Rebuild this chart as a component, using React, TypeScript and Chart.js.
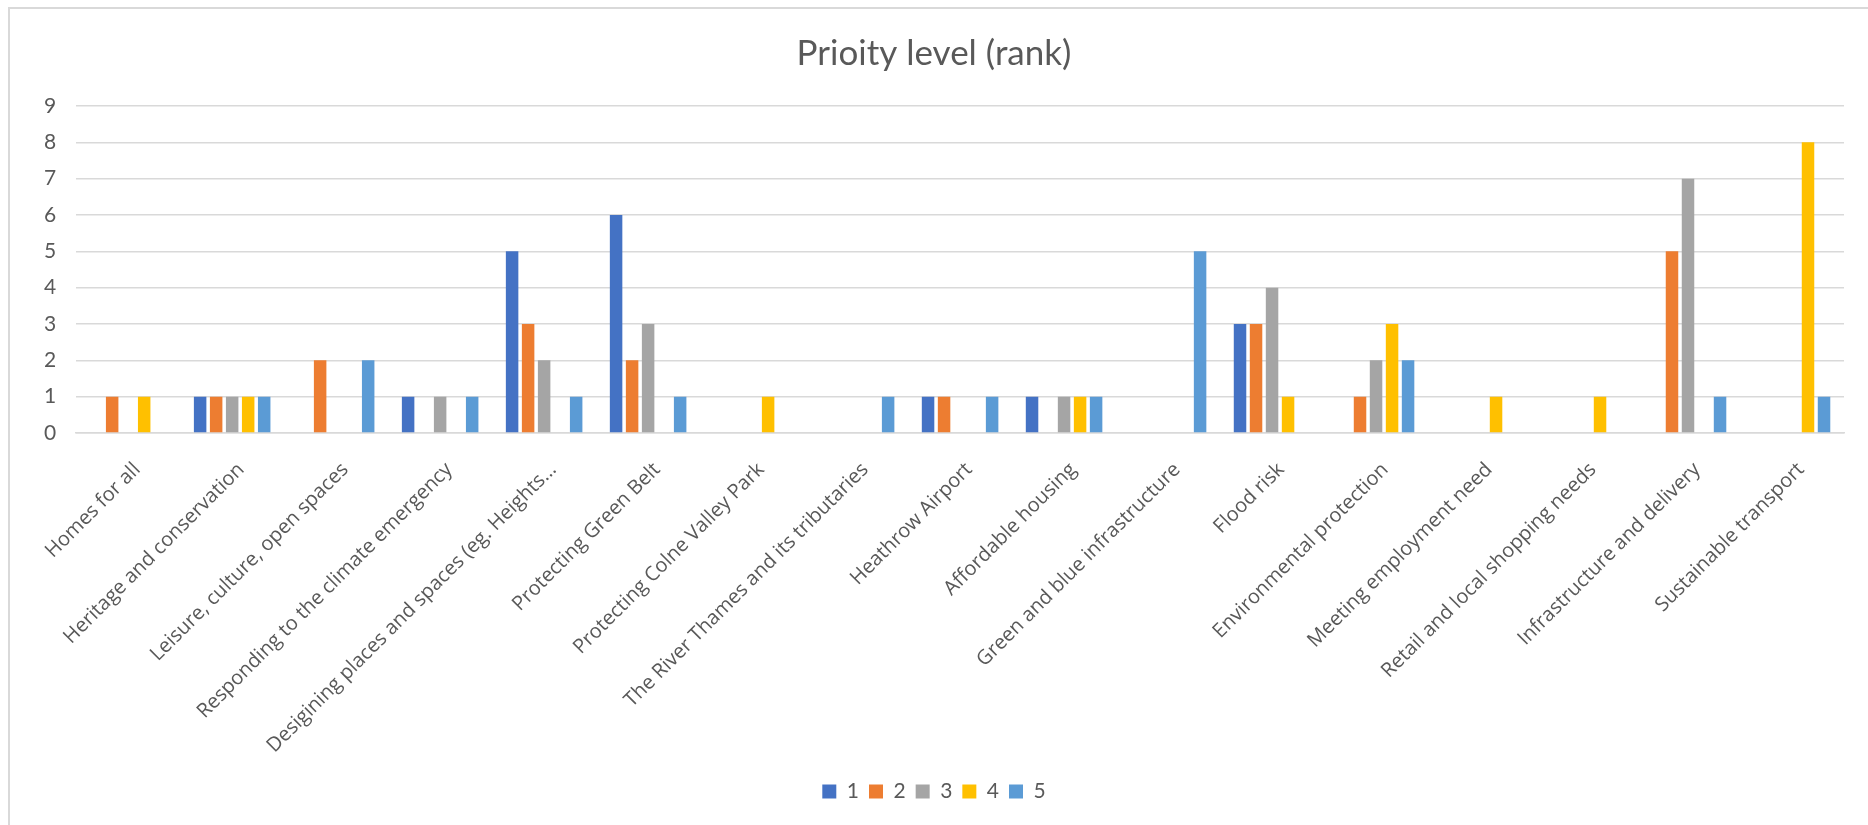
import React, { useEffect, useRef } from "react";
import { Chart, registerables } from "chart.js";

Chart.register(...registerables);

const categories = [
  "Homes for all",
  "Heritage and conservation",
  "Leisure, culture, open spaces",
  "Responding to the climate emergency",
  "Desigining places and spaces (eg. Heights…",
  "Protecting Green Belt",
  "Protecting Colne Valley Park",
  "The River Thames and its tributaries",
  "Heathrow Airport",
  "Affordable housing",
  "Green and blue infrastructure",
  "Flood risk",
  "Environmental protection",
  "Meeting employment need",
  "Retail and local shopping needs",
  "Infrastructure and delivery",
  "Sustainable transport",
];

const rank1 = [0, 1, 0, 1, 5, 6, 0, 0, 1, 1, 0, 3, 0, 0, 0, 0, 0];
const rank2 = [1, 1, 2, 0, 3, 2, 0, 0, 1, 0, 0, 3, 1, 0, 0, 5, 0];
const rank3 = [0, 1, 0, 1, 2, 3, 0, 0, 0, 1, 0, 4, 2, 0, 0, 7, 0];
const rank4 = [1, 1, 0, 0, 0, 0, 1, 0, 0, 1, 0, 1, 3, 1, 1, 0, 8];
const rank5 = [0, 1, 2, 1, 1, 1, 0, 1, 1, 1, 5, 0, 2, 0, 0, 1, 1];

const seriesNames = ["1", "2", "3", "4", "5"];
const seriesValues = [rank1, rank2, rank3, rank4, rank5];
const seriesColors = ["#4472C4", "#ED7D31", "#A5A5A5", "#FFC000", "#5B9BD5"];

const chartTitle = "Prioity level (rank)";
const yMin = 0;
const yMax = 9;
const yStep = 1;

export default function App() {
  const ref = useRef<HTMLCanvasElement>(null);

  useEffect(() => {
    if (!ref.current) return;
    const chart = new Chart(ref.current, {
      type: "bar",
      data: {
        labels: categories,
        datasets: seriesNames.map((name, i) => ({
          label: name,
          data: seriesValues[i],
          backgroundColor: seriesColors[i],
          borderWidth: 0,
          categoryPercentage: 0.77,
          barPercentage: 0.78,
        })),
      },
      options: {
        responsive: false,
        animation: false,
        layout: { padding: { left: 14, right: 34, top: 10, bottom: 13 } },
        plugins: {
          title: {
            display: true,
            text: chartTitle,
            color: "#595959",
            font: { family: "Lato", size: 35, weight: "normal" },
            padding: { top: 14, bottom: 31 },
          },
          legend: {
            position: "bottom",
            labels: {
              boxWidth: 14,
              boxHeight: 14,
              padding: 10,
              color: "#595959",
              font: { family: "Lato", size: 21 },
            },
          },
          tooltip: { enabled: false },
        },
        scales: {
          x: {
            grid: { display: false, drawTicks: false },
            border: { display: true, color: "#d9d9d9", width: 1.5 },
            ticks: {
              autoSkip: false,
              maxRotation: 45,
              minRotation: 45,
              padding: 25,
              labelOffset: 9,
              color: "#595959",
              font: { family: "'Open Sans'", size: 20 },
            },
            afterFit: (s: any) => {
              s.height = 338;
              s.paddingLeft = 0;
              s.paddingRight = 0;
            },
          },
          y: {
            min: yMin,
            max: yMax,
            ticks: {
              stepSize: yStep,
              padding: 20,
              color: "#595959",
              font: { family: "Lato", size: 21 },
            },
            grid: { color: "#d9d9d9", lineWidth: 1.5, drawTicks: false },
            border: { display: false },
          },
        },
      },
    });
    return () => chart.destroy();
  }, []);

  return (
    <div
      style={{
        position: "fixed",
        left: 0,
        top: 0,
        width: 1868,
        height: 825,
        overflow: "hidden",
        background: "#fff",
      }}
    >
      <div
        style={{
          position: "absolute",
          left: 8,
          top: 7,
          width: 1900,
          height: 900,
          border: "2px solid #d9d9d9",
          boxSizing: "border-box",
        }}
      />
      <canvas
        ref={ref}
        width={1868}
        height={816}
        style={{ position: "absolute", left: 10, top: 9, width: 1868, height: 816, display: "block" }}
      />
    </div>
  );
}
